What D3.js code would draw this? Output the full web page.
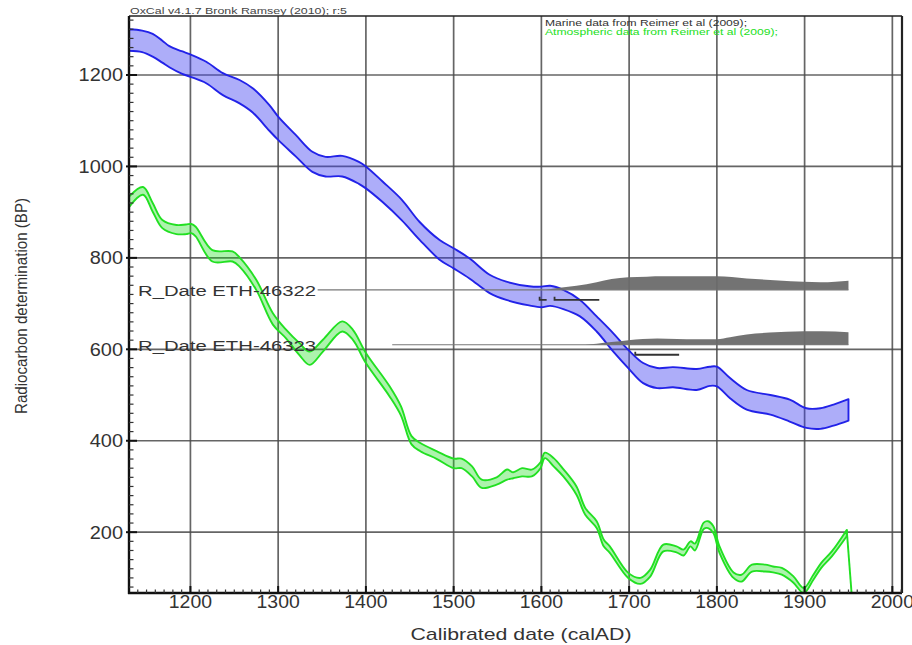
<!DOCTYPE html>
<html><head><meta charset="utf-8">
<script src="https://cdn.jsdelivr.net/npm/d3@7"></script>
<style>
html,body{margin:0;padding:0;background:#fff;}
svg{display:block;font-family:"Liberation Sans",Arial,sans-serif;}
</style>
</head><body>
<svg id="chart" width="912" height="645"></svg>
<script>
// ---- Data ----
const marineYears = [1130,1145,1157,1168,1176,1190,1200,1218,1237,1256,1271,1290,1300,1320,1339,1354,1373,1392,1400,1419,1441,1461,1484,1500,1518,1541,1560,1586,1600,1610,1625,1644,1663,1682,1699,1716,1732,1750,1777,1792,1800,1815,1834,1861,1883,1902,1918,1933,1950];
const marineUpper = [1300,1297,1290,1275,1263,1252,1245,1229,1204,1189,1171,1134,1109,1069,1032,1021,1023,1010,1000,967,927,879,839,821,799,763,748,738,737,739,730,708,672,635,599,570,559,561,557,562,562,537,511,500,490,471,471,479,491];
const marineLower = [1253,1250,1240,1227,1217,1203,1196,1182,1156,1138,1118,1078,1058,1022,988,978,978,962,952,922,882,840,796,777,755,723,708,696,692,695,688,672,639,595,559,526,515,517,511,520,519,493,468,457,442,428,426,433,444];

const atmosYears = [1130,1146,1157,1168,1184,1195,1201,1206,1225,1248,1256,1275,1294,1309,1324,1336,1351,1373,1385,1400,1427,1440,1452,1462,1481,1500,1509,1521,1532,1549,1561,1568,1578,1589,1599,1604,1614,1625,1640,1650,1663,1671,1678,1699,1713,1724,1739,1754,1762,1770,1775,1785,1790,1796,1803,1819,1828,1840,1855,1864,1874,1887,1899,1910,1919,1931,1948];
const atmosUpper = [934,955,920,883,872,873,874,868,817,814,801,752,679,643,614,595,621,661,643,592,519,475,410,395,377,361,361,344,315,320,337,331,340,337,353,374,362,338,300,253,224,184,169,111,100,118,173,169,162,180,175,221,224,213,169,112,107,129,129,125,122,104,78,107,133,158,205];
const atmosLower = [911,938,901,865,852,852,854,847,792,792,781,730,654,624,588,566,595,639,621,570,497,455,392,377,360,340,340,322,297,304,315,318,322,322,340,362,344,322,282,238,209,169,155,100,87,103,158,156,149,169,160,207,209,198,155,100,92,114,114,112,107,90,67,96,122,147,191];
const atmosTailYears = [1948,1954];
const atmosTailValues = [205,55];

const xTickLabels = [1200,1300,1400,1500,1600,1700,1800,1900,2000];
const yTickLabels = [200,400,600,800,1000,1200];

const dateNames = ["R_Date ETH-46322","R_Date ETH-46323"];
const dateBP = [730,610];
const dateLineStart = [1345,1430];
const dateLineEnd = [1950,1950];

const dist46322Years = [1605,1621,1640,1663,1680,1699,1720,1739,1770,1800,1834,1870,1899,1918,1935,1950];
const dist46322Prob  = [0,0.15,0.3,0.56,0.8,0.93,0.98,1.0,1.0,1.0,0.85,0.7,0.6,0.56,0.6,0.68];
const dist46323Years = [1650,1663,1680,1699,1732,1777,1800,1815,1834,1860,1899,1920,1950];
const dist46323Prob  = [0,0.08,0.2,0.34,0.47,0.4,0.4,0.55,0.76,0.9,1.0,1.0,0.92];
const range46322 = [[1598,1606],[1615,1666]];
const range46323 = [[1707,1757]];

const headerText = "OxCal v4.1.7 Bronk Ramsey (2010); r:5";
const legendTexts = ["Marine data from Reimer et al (2009);","Atmospheric data from Reimer et al (2009);"];
const xTitle = "Calibrated date (calAD)";
const yTitle = "Radiocarbon determination (BP)";

// ---- Drawing ----
const svg = d3.select("#chart");
const L = 129, R = 902, T = 16, B = 593;
const x = d3.scaleLinear().domain([1130, 2011]).range([L, R]);
const y = d3.scaleLinear().domain([67, 1329]).range([B, T]);

svg.append("defs").append("clipPath").attr("id","plotclip")
  .append("rect").attr("x",L).attr("y",T).attr("width",R-L).attr("height",B-T);

const plot = svg.append("g").attr("clip-path","url(#plotclip)");

// grid
plot.selectAll("line.gx").data(xTickLabels).join("line")
  .attr("x1",d=>x(d)).attr("x2",d=>x(d)).attr("y1",T).attr("y2",B)
  .attr("stroke","#4a4a4a").attr("stroke-width",1.7).attr("stroke-opacity",0.85);
plot.selectAll("line.gy").data(yTickLabels).join("line")
  .attr("y1",d=>y(d)).attr("y2",d=>y(d)).attr("x1",L).attr("x2",R)
  .attr("stroke","#4a4a4a").attr("stroke-width",1.7).attr("stroke-opacity",0.85);

// bands
const marine = marineYears.map((yr,i)=>({yr, hi:marineUpper[i], lo:marineLower[i]}));
const atmos = atmosYears.map((yr,i)=>({yr, hi:atmosUpper[i], lo:atmosLower[i]}));
const band = d3.area().x(d=>x(d.yr)).y0(d=>y(d.lo)).y1(d=>y(d.hi)).curve(d3.curveCatmullRom.alpha(0.5));

plot.append("path").datum(marine).attr("d",band)
  .attr("fill","rgb(60,60,240)").attr("fill-opacity",0.42)
  .attr("stroke","#2222e8").attr("stroke-width",1.9).attr("stroke-linejoin","round");

plot.append("path").datum(atmos).attr("d",band)
  .attr("fill","rgb(20,220,20)").attr("fill-opacity",0.35)
  .attr("stroke","#22e022").attr("stroke-width",1.9).attr("stroke-linejoin","round");

plot.append("path").datum(atmosTailYears.map((yr,i)=>({yr,v:atmosTailValues[i]})))
  .attr("d",d3.line().x(d=>x(d.yr)).y(d=>y(d.v)))
  .attr("fill","none").attr("stroke","#22e022").attr("stroke-width",1.9);

// R_Date items
const dists = [
  {years:dist46322Years, prob:dist46322Prob, ranges:range46322},
  {years:dist46323Years, prob:dist46323Prob, ranges:range46323}
];
const hScale = d3.scaleLinear().domain([0,1]).range([0,13.5]);
dists.forEach((dd,k)=>{
  const base = y(dateBP[k]);
  plot.append("line").attr("x1",x(dateLineStart[k])).attr("x2",x(dateLineEnd[k]))
    .attr("y1",base).attr("y2",base).attr("stroke","#777").attr("stroke-width",1.1);
  const pts = dd.years.map((yr,i)=>({yr,p:dd.prob[i]}));
  plot.append("path").datum(pts)
    .attr("d",d3.area().x(d=>x(d.yr)).y0(base).y1(d=>base-hScale(d.p)).curve(d3.curveMonotoneX))
    .attr("fill","#6c6c6c").attr("fill-opacity",0.95);
  const yb = base + 10;
  dd.ranges.forEach(r=>{
    plot.append("path")
      .attr("d",`M${x(r[0])},${yb-3}V${yb}H${x(r[1])}`)
      .attr("fill","none").attr("stroke","#333").attr("stroke-width",1.8);
  });
  svg.append("text").attr("x",138).attr("y",base+6)
    .attr("font-size",15.5).attr("fill","#333")
    .attr("textLength",178).attr("lengthAdjust","spacingAndGlyphs")
    .text(dateNames[k]);
});

// axes frame
svg.append("line").attr("x1",L).attr("x2",R).attr("y1",T).attr("y2",T).attr("stroke","#222").attr("stroke-width",1.6);
svg.append("line").attr("x1",R).attr("x2",R).attr("y1",T).attr("y2",B).attr("stroke","#222").attr("stroke-width",2.2);
svg.append("line").attr("x1",L).attr("x2",L).attr("y1",T).attr("y2",B+1).attr("stroke","#111").attr("stroke-width",2.4);
svg.append("line").attr("x1",L-1).attr("x2",R).attr("y1",B).attr("y2",B).attr("stroke","#111").attr("stroke-width",2.4);

// minor ticks
const xMinor = d3.range(1140, 2011, 10).filter(v=>v%100!==0);
svg.selectAll("line.xm").data(xMinor).join("line")
  .attr("x1",d=>x(d)).attr("x2",d=>x(d)).attr("y1",B).attr("y2",B-3.5)
  .attr("stroke","#333").attr("stroke-width",1.2);
svg.selectAll("line.xM").data(xTickLabels).join("line")
  .attr("x1",d=>x(d)).attr("x2",d=>x(d)).attr("y1",B).attr("y2",B-7)
  .attr("stroke","#111").attr("stroke-width",2);
const yMinor = d3.range(80, 1329, 20).filter(v=>v%200!==0);
svg.selectAll("line.ym").data(yMinor).join("line")
  .attr("y1",d=>y(d)).attr("y2",d=>y(d)).attr("x1",L).attr("x2",L+4.5)
  .attr("stroke","#333").attr("stroke-width",1.2);
svg.selectAll("line.yM").data(yTickLabels).join("line")
  .attr("y1",d=>y(d)).attr("y2",d=>y(d)).attr("x1",L-3).attr("x2",L+8)
  .attr("stroke","#111").attr("stroke-width",2);

// tick labels
svg.selectAll("text.xl").data(xTickLabels).join("text")
  .attr("x",d=>x(d)).attr("y",608).attr("text-anchor","middle")
  .attr("font-size",17.5).attr("fill","#333")
  .attr("textLength",d=>String(d).length*10.8).attr("lengthAdjust","spacingAndGlyphs")
  .text(d=>d);
svg.selectAll("text.yl").data(yTickLabels).join("text")
  .attr("x",123).attr("y",d=>y(d)+6.5).attr("text-anchor","end")
  .attr("font-size",17.5).attr("fill","#333")
  .attr("textLength",d=>String(d).length*11.1).attr("lengthAdjust","spacingAndGlyphs")
  .text(d=>d);

// titles
svg.append("text").attr("x",521).attr("y",640).attr("text-anchor","middle")
  .attr("font-size",17).attr("fill","#333")
  .attr("textLength",221).attr("lengthAdjust","spacingAndGlyphs").text(xTitle);
svg.append("text").attr("transform","translate(27,306) rotate(-90)").attr("text-anchor","middle")
  .attr("font-size",16).attr("fill","#333")
  .attr("textLength",216).attr("lengthAdjust","spacingAndGlyphs").text(yTitle);

svg.append("text").attr("x",130).attr("y",13.5).attr("font-size",9.5).attr("fill","#444")
  .attr("textLength",217).attr("lengthAdjust","spacingAndGlyphs").text(headerText);
svg.append("text").attr("x",545).attr("y",26).attr("font-size",9).attr("fill","#333")
  .attr("textLength",202).attr("lengthAdjust","spacingAndGlyphs").text(legendTexts[0]);
svg.append("text").attr("x",545).attr("y",34.5).attr("font-size",9).attr("fill","#22e022")
  .attr("textLength",233).attr("lengthAdjust","spacingAndGlyphs").text(legendTexts[1]);
</script>
</body></html>
